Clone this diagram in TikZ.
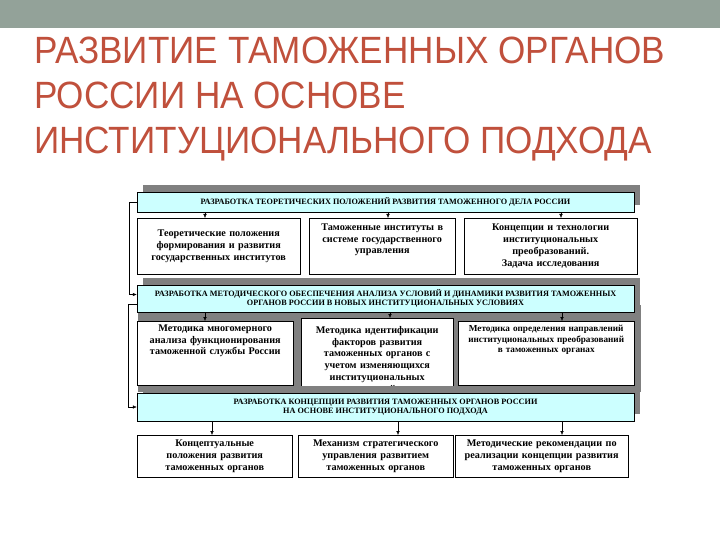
\documentclass[tikz,border=0pt]{standalone}
\usepackage{fontspec}
\usepackage{tikz}
\usetikzlibrary{positioning,arrows.meta,shadows}
\newfontfamily\zagfont[FakeStretch=0.924]{Liberation Sans}
\newfontfamily\tmsfont{Liberation Serif}
\definecolor{lenta}{HTML}{93A299}
\definecolor{zagred}{HTML}{C0503C}
\definecolor{barcyan}{HTML}{CCFFFF}
\definecolor{tengray}{HTML}{808080}

\begin{document}
\begin{tikzpicture}[
      x=1pt, y=-1pt,
      polosa/.style={draw, fill=barcyan, minimum width=497pt, inner sep=1pt, align=center,
                     font=\tmsfont\bfseries\fontsize{8.2}{9.4}\selectfont,
                     general shadow={fill=tengray, shadow xshift=6pt, shadow yshift=7pt}},
      blok/.style={draw, fill=white, align=center, inner sep=3pt, anchor=north west,
                   font=\tmsfont\bfseries\fontsize{10.2}{11.8}\selectfont},
      blokverh/.style={blok, text height=7pt, text depth=#1},
      strel/.style={-{Latex[length=4pt,width=3.5pt]}, thin}]
    \useasboundingbox (0,0) rectangle (720,540);
    \fill[lenta] (0,0) rectangle (720,28);
    \node[anchor=north west, align=left, inner sep=0pt, text=zagred,
          font=\zagfont\fontsize{38}{45}\selectfont] (zag) at (34,37)
      {РАЗВИТИЕ ТАМОЖЕННЫХ ОРГАНОВ\\РОССИИ НА ОСНОВЕ\\ИНСТИТУЦИОНАЛЬНОГО ПОДХОДА};
    \fill[tengray] (138,305) rectangle (641,392);
    \node[polosa, minimum height=20pt] (bar1) at (385.5,202)
      {РАЗРАБОТКА ТЕОРЕТИЧЕСКИХ ПОЛОЖЕНИЙ РАЗВИТИЯ ТАМОЖЕННОГО ДЕЛА РОССИИ};
    \node[blok, text width=157pt, minimum height=56pt] (b11) at (137,218)
      {Теоретические положения\\формирования и развития\\государственных институтов};
    \node[blokverh=41pt, text height=9pt, text width=140pt] (b12) at (309,218)
      {Таможенные институты в\\системе государственного\\управления};
    \node[blok, text width=167pt, minimum height=56pt] (b13) at (464,218)
      {Концепции и технологии\\институциональных\\преобразований.\\Задача исследования};
    \node[polosa, minimum height=27pt] (bar2) at (385.5,298.5)
      {РАЗРАБОТКА МЕТОДИЧЕСКОГО ОБЕСПЕЧЕНИЯ АНАЛИЗА УСЛОВИЙ И ДИНАМИКИ РАЗВИТИЯ ТАМОЖЕННЫХ\\
       ОРГАНОВ РОССИИ В НОВЫХ ИНСТИТУЦИОНАЛЬНЫХ УСЛОВИЯХ};
    \node[blokverh=51pt, text width=150pt] (b21) at (137,321)
      {Методика многомерного\\анализа функционирования\\таможенной службы России};
    \node[blokverh=51pt, text height=12pt, text width=146pt] (b22) at (301,318)
      {Методика идентификации\\факторов развития\\таможенных органов с\\учетом изменяющихся\\институциональных\\условий};
    \node[blokverh=51pt, text width=170pt, font=\tmsfont\bfseries\fontsize{9.2}{10.8}\selectfont] (b23) at (458,321)
      {Методика определения направлений\\институциональных преобразований\\в таможенных органах};
    \node[polosa, minimum height=28pt] (bar3) at (385.5,407)
      {РАЗРАБОТКА КОНЦЕПЦИИ РАЗВИТИЯ ТАМОЖЕННЫХ ОРГАНОВ РОССИИ\\
       НА ОСНОВЕ ИНСТИТУЦИОНАЛЬНОГО ПОДХОДА};
    \node[blok, text width=149pt, minimum height=42pt] (b31) at (137,435)
      {Концептуальные\\положения развития\\таможенных органов};
    \node[blok, text width=149pt, minimum height=42pt] (b32) at (298,435)
      {Механизм стратегического\\управления развитием\\таможенных органов};
    \node[blok, text width=167pt, minimum height=42pt] (b33) at (455,435)
      {Методические рекомендации по\\реализации концепции развития\\таможенных органов};
    \foreach \x/\b in {205/b11, 388/b12, 561/b13}
      \draw[strel] (bar1.south -| \x,0) -- (\x,0 |- \b.north);
    \foreach \x/\b in {205/b21, 390/b22, 562/b23}
      \draw[strel] (bar2.south -| \x,0) -- (\x,0 |- \b.north);
    \foreach \x/\b in {212/b31, 398/b32, 562/b33}
      \draw[strel] (bar3.south -| \x,0) -- (\x,0 |- \b.north);
    \draw[strel] (bar1.west) -- ++(-8,0) |- ([yshift=4pt]bar2.west);
    \draw[strel] ([yshift=-6pt]bar2.west) -- ++(-9,0) |- (bar3.west);
  \end{tikzpicture}
\end{document}
